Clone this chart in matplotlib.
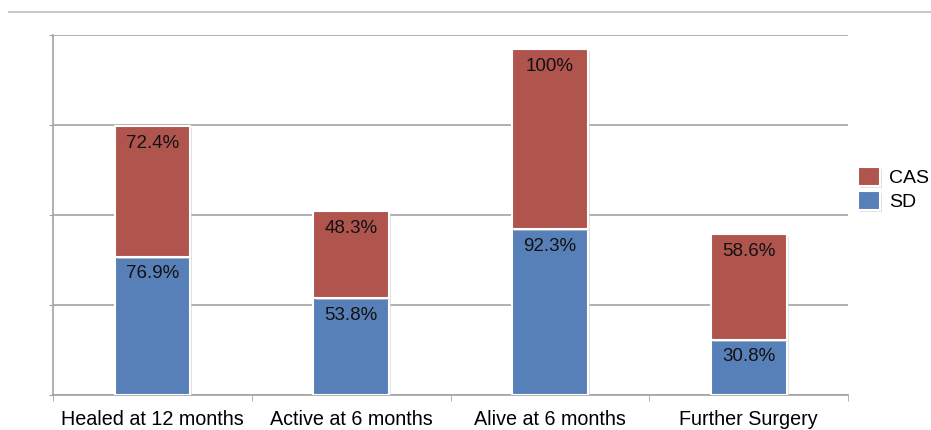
import matplotlib.pyplot as plt
from matplotlib.lines import Line2D
import matplotlib.patheffects as pe

plt.rcParams['font.family'] = ['Liberation Sans', 'DejaVu Sans']

categories = ['Healed at 12 months', 'Active at 6 months', 'Alive at 6 months', 'Further Surgery']
sd_values = [76.9, 53.8, 92.3, 30.8]
cas_values = [72.4, 48.3, 100, 58.6]

sd_color = '#5880b8'
cas_color = '#b0554e'
grid_color = '#a3a3a3'

fig = plt.figure(figsize=(9.31, 4.30), dpi=100)
ax = fig.add_axes([0.057, 0.0814, 0.854, 0.8372])

# thin rule across the top of the page
fig.add_artist(Line2D([0.01, 1.0], [0.972, 0.972], color='#bdbdbd', lw=1.2))

x = list(range(len(categories)))
shadow = [pe.SimplePatchShadow(offset=(1.5, -1.5), shadow_rgbFace='#cccccc', alpha=0.6), pe.Normal()]
sd_bars = ax.bar(x, sd_values, width=0.38, color=sd_color, edgecolor='white', linewidth=1.5,
                 label='SD', zorder=3, path_effects=shadow)
cas_bars = ax.bar(x, cas_values, width=0.38, bottom=sd_values, color=cas_color, edgecolor='white',
                  linewidth=1.5, label='CAS', zorder=3, path_effects=shadow)

# value labels just under the top of each segment
for i in x:
    ax.annotate(f'{sd_values[i]:g}%', (i, sd_values[i]), xytext=(0, -12.5), textcoords='offset points',
                ha='center', va='center', fontsize=13.5, color='#111111', zorder=4)
    top = sd_values[i] + cas_values[i]
    ax.annotate(f'{cas_values[i]:g}%', (i, top), xytext=(0, -12.5), textcoords='offset points',
                ha='center', va='center', fontsize=13.5, color='#111111', zorder=4)

ax.set_xlim(-0.5, 3.5)
ax.set_ylim(0, 200)
ax.set_yticks([0, 50, 100, 150, 200])
ax.set_yticklabels([])
ax.yaxis.grid(True, color=grid_color, lw=1.2, zorder=0)
ax.tick_params(axis='y', length=3, color=grid_color, direction='out')

ax.set_xticks(x)
ax.set_xticklabels(categories, fontsize=14.2)
ax.tick_params(axis='x', length=0, pad=11)
ax.set_xticks([-0.5, 0.5, 1.5, 2.5, 3.5], minor=True)
ax.tick_params(axis='x', which='minor', length=4, color=grid_color, direction='out')

for s in ['top', 'right']:
    ax.spines[s].set_visible(False)
for s in ['left', 'bottom']:
    ax.spines[s].set_color(grid_color)
    ax.spines[s].set_linewidth(1.2)

fig.legend(handles=[cas_bars, sd_bars], labels=['CAS', 'SD'], loc='center left',
           bbox_to_anchor=(0.922, 0.56), frameon=False, fontsize=14,
           borderpad=0, borderaxespad=0,
           handlelength=1.1, handleheight=1.1, handletextpad=0.5, labelspacing=0.2)

fig.savefig('out.png', dpi=100)
